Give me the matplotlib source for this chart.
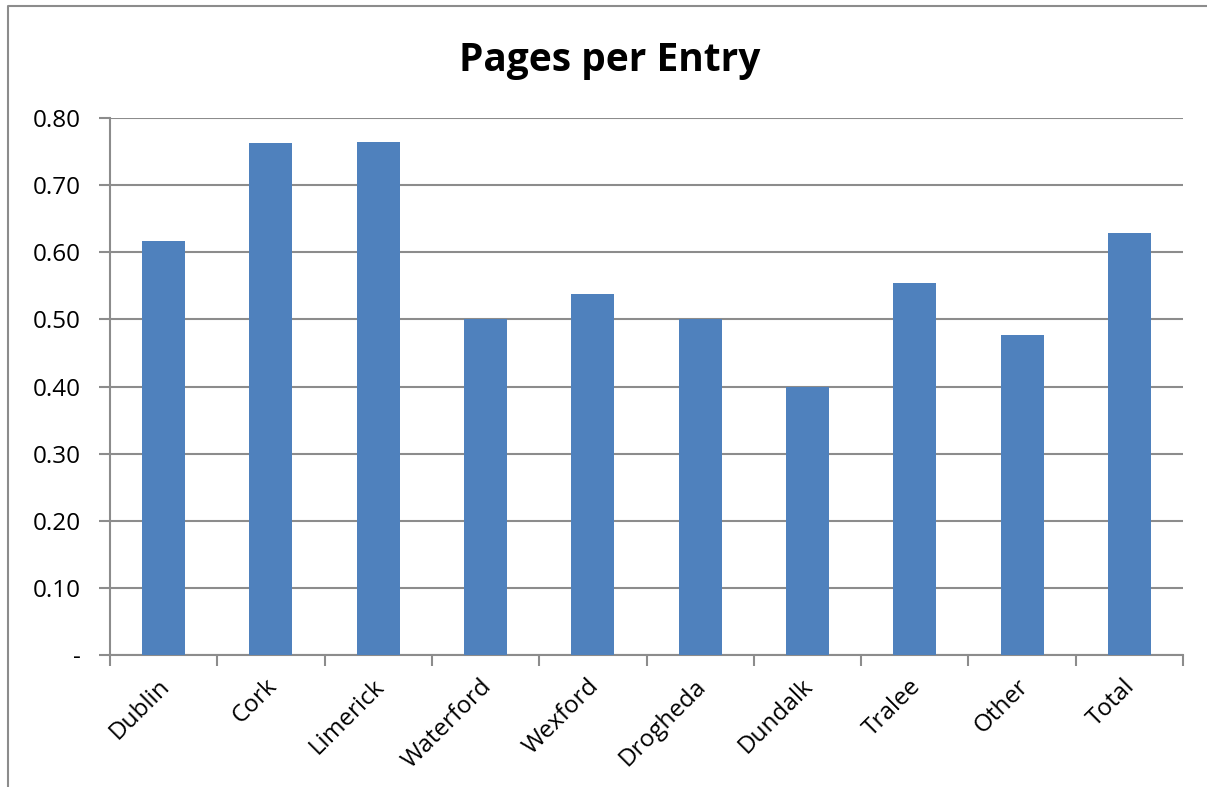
import matplotlib
matplotlib.use('Agg')
import matplotlib.pyplot as plt
from matplotlib.lines import Line2D
from matplotlib.transforms import ScaledTranslation
import numpy as np

categories = ["Dublin", "Cork", "Limerick", "Waterford", "Wexford",
              "Drogheda", "Dundalk", "Tralee", "Other", "Total"]
pages_per_entry = [0.617, 0.763, 0.764, 0.50, 0.538, 0.50, 0.40, 0.554, 0.477, 0.629]
yticks = [0, 0.1, 0.2, 0.3, 0.4, 0.5, 0.6, 0.7, 0.8]

plt.rcParams['font.family'] = ['Open Sans', 'DejaVu Sans']
grey = "#8c8c8c"

fig = plt.figure(figsize=(12.07, 7.87), dpi=100)
ax = fig.add_axes([110/1207, 1-655/787, (1183-110)/1207, (655-118)/787])

x = np.arange(len(categories))
ax.bar(x, pages_per_entry, width=0.4, color="#4f81bd", zorder=3)

ax.set_xlim(-0.5, len(categories) - 0.5)
ax.set_ylim(0, 0.8)
ax.set_yticks(yticks)
ax.set_yticklabels(["-" if v == 0 else "%.2f" % v for v in yticks], fontsize=17.5)
ax.yaxis.grid(True, color=grey, linewidth=1.5, zorder=0)

ax.set_xticks(np.arange(len(categories) + 1) - 0.5)
ax.set_xticklabels([])
ax.set_xticks(x, minor=True)
ax.set_xticklabels(categories, minor=True, rotation=45, ha='right', va='top',
                   rotation_mode='anchor', fontsize=17.5)
ax.tick_params(axis='x', which='minor', length=0, pad=14)
ax.tick_params(axis='x', which='major', length=8, width=1.5, color=grey)
ax.tick_params(axis='y', length=8, width=1.5, color=grey, pad=13)

# nudge category labels a little to the left
shift = ScaledTranslation(-6/100, 0, fig.dpi_scale_trans)
for lbl in ax.get_xticklabels(minor=True):
    lbl.set_transform(lbl.get_transform() + shift)

for s in ['top', 'right']:
    ax.spines[s].set_visible(False)
for s in ['left', 'bottom']:
    ax.spines[s].set_color(grey)
    ax.spines[s].set_linewidth(1.5)

fig.text(610/1207, 1-60/787, "Pages per Entry", ha='center', va='center',
         fontsize=28, fontweight='bold')

# chart border (top and left edges visible)
fig.add_artist(Line2D([8/1207, 8/1207, 1], [0, 1-6/787, 1-6/787],
                      transform=fig.transFigure, color=grey, linewidth=1.5))

fig.savefig("out.png", dpi=100)
